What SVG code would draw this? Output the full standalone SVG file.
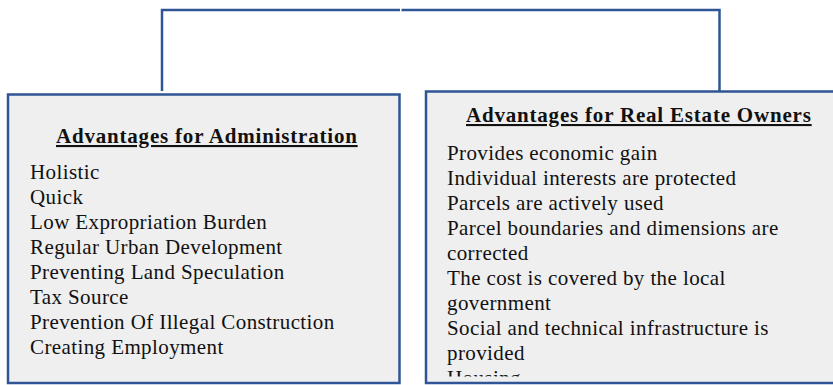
<svg xmlns="http://www.w3.org/2000/svg" width="833" height="385" viewBox="0 0 833 385">
<style>
.box{fill:#efefef;stroke:#2f5597;stroke-width:2.5}
.conn{fill:none;stroke:#2f5597;stroke-width:2.5}
.t{font-family:"Liberation Serif","Times New Roman",serif;font-size:21px;fill:#111;letter-spacing:0.4px}
.h{font-weight:bold;text-decoration:underline;letter-spacing:0.8px}
</style>
<defs>
<clipPath id="clipR"><rect x="426" y="92" width="420" height="284.5"/></clipPath>
</defs>
<g id="connectors">
<polyline class="conn" points="162,91 162,10 400,10"/>
<polyline class="conn" points="401.5,10 719.5,10 719.5,91"/>
</g>
<g id="admin">
<rect class="box" x="8" y="94.5" width="391.5" height="288.5"/>
<text class="t h" x="56" y="143">Advantages for Administration</text>
<text class="t" x="30" y="179">Holistic</text>
<text class="t" x="30" y="204">Quick</text>
<text class="t" x="30" y="229">Low Expropriation Burden</text>
<text class="t" x="30" y="254">Regular Urban Development</text>
<text class="t" x="30" y="279">Preventing Land Speculation</text>
<text class="t" x="30" y="304">Tax Source</text>
<text class="t" x="30" y="329">Prevention Of Illegal Construction</text>
<text class="t" x="30" y="354">Creating Employment</text>
</g>
<g id="owners">
<rect class="box" x="426" y="91.5" width="420" height="291.5"/>
<text class="t h" x="466" y="122">Advantages for Real Estate Owners</text>
<text class="t" x="447" y="160">Provides economic gain</text>
<text class="t" x="447" y="185">Individual interests are protected</text>
<text class="t" x="447" y="210">Parcels are actively used</text>
<text class="t" x="447" y="235">Parcel boundaries and dimensions are</text>
<text class="t" x="447" y="260">corrected</text>
<text class="t" x="447" y="285">The cost is covered by the local</text>
<text class="t" x="447" y="310">government</text>
<text class="t" x="447" y="335">Social and technical infrastructure is</text>
<text class="t" x="447" y="360">provided</text>
<text class="t" x="447" y="385" clip-path="url(#clipR)">Housing</text>
</g>
</svg>
